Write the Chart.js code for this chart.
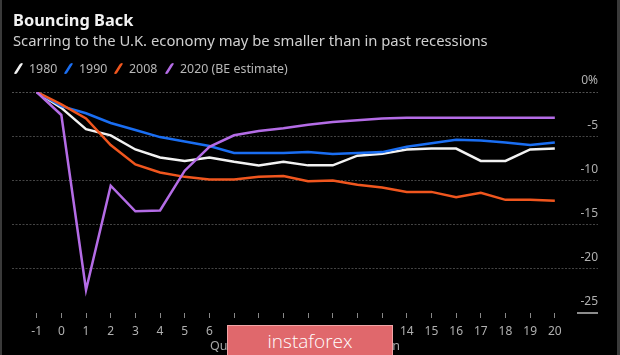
<!DOCTYPE html>
<html>
<head>
<meta charset="utf-8">
<script src="https://cdn.jsdelivr.net/npm/chart.js@4.4.1/dist/chart.umd.min.js"></script>
<style>
  html, body { margin: 0; padding: 0; background: #000; }
  body { width: 620px; height: 355px; position: relative; overflow: hidden; font-family: "Noto Sans", "DejaVu Sans", sans-serif; }
  #frameL { position: absolute; left: 0; top: 0; width: 2px; height: 355px; background: #3a3a3a; }
  #frameR { position: absolute; right: 0; top: 0; width: 3px; height: 355px; background: #3a3a3a; }
  #title { position: absolute; left: 13px; top: 8px; color: #f2f2f2; font-weight: bold; font-size: 16.4px; }
  #subtitle { position: absolute; left: 13px; top: 30px; color: #d0d0d0; font-size: 14.8px; }
  #legend { position: absolute; left: 0; top: 59px; width: 400px; height: 18px; color: #b8b8b8; font-size: 12.4px; }
  #legend span.item { position: absolute; top: 0; display: flex; align-items: center; height: 18px; }
  #legend i { display: inline-block; width: 3px; height: 11px; border-radius: 1.5px; transform: skewX(-32deg); margin: 0 9px 0 2px; }
  #chartWrap { position: absolute; left: 0; top: 0; width: 620px; height: 355px; }
  #wm { position: absolute; left: 227px; top: 325px; width: 164px; height: 32px; background: #e0686c; border: 1px solid #f2a4a6; color: #fff; font-size: 19px; text-align: center; line-height: 30px; font-family: "Open Sans", "Noto Sans", sans-serif; font-weight: 300; }
</style>
</head>
<body>
<div id="chartWrap"><canvas id="c" width="620" height="355"></canvas></div>
<div id="frameL"></div><div id="frameR"></div>
<div id="title">Bouncing Back</div>
<div id="subtitle">Scarring to the U.K. economy may be smaller than in past recessions</div>
<div id="legend"></div>
<div id="wm">instaforex</div>
<script>
const quarters = [-1,0,1,2,3,4,5,6,7,8,9,10,11,12,13,14,15,16,17,18,19,20];
const s1980 = [0,-1.8,-4.2,-4.9,-6.5,-7.4,-7.8,-7.4,-7.9,-8.3,-7.9,-8.3,-8.3,-7.2,-7.0,-6.5,-6.4,-6.4,-7.8,-7.8,-6.5,-6.4];
const s1990 = [0,-1.6,-2.4,-3.5,-4.3,-5.1,-5.6,-6.1,-6.9,-6.9,-6.9,-6.8,-7.0,-6.9,-6.8,-6.2,-5.8,-5.4,-5.5,-5.7,-6.0,-5.7];
const s2008 = [0,-1.4,-3.0,-6.0,-8.2,-9.1,-9.6,-9.9,-9.9,-9.6,-9.5,-10.1,-10.0,-10.5,-10.8,-11.3,-11.3,-11.9,-11.4,-12.2,-12.2,-12.3];
const s2020 = [0,-2.6,-22.4,-10.6,-13.5,-13.4,-8.9,-6.2,-4.9,-4.4,-4.1,-3.7,-3.4,-3.2,-3.0,-2.9,-2.9,-2.9,-2.9,-2.9,-2.9,-2.9];
const seriesNames = ['1980','1990','2008','2020 (BE estimate)'];
const yTicks = [0,-5,-10,-15,-20,-25];
const xTitle = 'Quarters since start of recession';

const colors = ['#f2f2f2','#1a6ef2','#f0561e','#b46ce6'];
const allSeries = [s1980, s1990, s2008, s2020];
const legendX = [15, 65, 115, 166];

const leg = document.getElementById('legend');
seriesNames.forEach((n,i)=>{
  const sp = document.createElement('span'); sp.className='item';
  sp.style.left = legendX[i] + 'px';
  const ic = document.createElement('i'); ic.style.background = colors[i];
  sp.appendChild(ic); sp.appendChild(document.createTextNode(n));
  leg.appendChild(sp);
});

const underline = {
  id: 'underline',
  afterDraw(chart) {
    const y = chart.scales.y;
    const py = y.getPixelForValue(-25);
    const ctx = chart.ctx;
    ctx.save();
    ctx.strokeStyle = '#bbbbbb';
    ctx.lineWidth = 1.5;
    ctx.beginPath();
    ctx.moveTo(chart.chartArea.right - 21, py);
    ctx.lineTo(chart.chartArea.right, py);
    ctx.stroke();
    ctx.restore();
  }
};

new Chart(document.getElementById('c'), {
  type: 'line',
  data: {
    datasets: allSeries.map((s,i)=>({
      label: seriesNames[i],
      data: quarters.map((q,j)=>({x:q, y:s[j]})),
      borderColor: colors[i],
      borderWidth: 2.5,
      pointRadius: 0,
      tension: 0,
      order: 4 - i
    }))
  },
  options: {
    responsive: false,
    animation: false,
    layout: { padding: { left: 12, top: 92, right: 0, bottom: 0 } },
    plugins: { legend: { display: false }, tooltip: { enabled: false } },
    scales: {
      x: {
        type: 'linear',
        min: -2, max: 21.75,
        afterFit: s => { s.height = 42; },
        afterBuildTicks: s => { s.ticks = quarters.map(v => ({value: v})); },
        border: { display: false },
        grid: { drawOnChartArea: false, drawTicks: true, tickLength: 5, tickColor: '#888', lineWidth: 1 },
        ticks: { color: '#b0b0b0', font: { size: 12, family: '"Noto Sans", sans-serif' }, padding: 6, maxRotation: 0, autoSkip: false },
        title: { display: true, text: xTitle, color: '#a8a8a8', font: { size: 12.5, family: '"Noto Sans", sans-serif' }, padding: { top: 0, bottom: 1 } }
      },
      y: {
        position: 'right',
        min: -25, max: 0,
        afterFit: s => { s.width = 22; },
        afterBuildTicks: s => { s.ticks = yTicks.map(v => ({value: v})); },
        border: { display: false, dash: [2, 1.5] },
        grid: {
          drawTicks: false,
          color: c => c.tick.value === 0 ? '#505050' : (c.tick.value === -25 ? 'rgba(0,0,0,0)' : '#444444'),
          lineWidth: 1
        },
        ticks: {
          mirror: true,
          padding: 0,
          labelOffset: -11,
          color: '#b0b0b0',
          font: { size: 12, family: '"Noto Sans", sans-serif' },
          callback: v => v === 0 ? '0%' : String(v)
        }
      }
    }
  },
  plugins: [underline]
});
</script>
</body>
</html>
